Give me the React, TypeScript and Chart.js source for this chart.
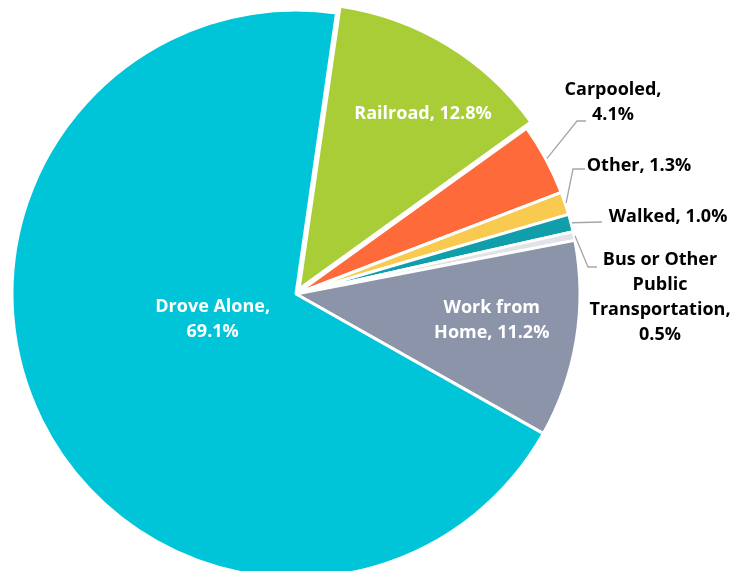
import { useEffect, useRef } from "react";
import { Chart, registerables } from "chart.js";

Chart.register(...registerables);

// ---- data ----
const categories = [
  "Railroad",
  "Carpooled",
  "Other",
  "Walked",
  "Bus or Other Public Transportation",
  "Work from Home",
  "Drove Alone",
];
const shares = [12.8, 4.1, 1.3, 1.0, 0.5, 11.2, 69.1];
const labelLines = [
  ["Railroad, 12.8%"],
  ["Carpooled,", "4.1%"],
  ["Other, 1.3%"],
  ["Walked, 1.0%"],
  ["Bus or Other", "Public", "Transportation,", "0.5%"],
  ["Work from", "Home, 11.2%"],
  ["Drove Alone,", "69.1%"],
];

// ---- styles / layout ----
const colors = ["#A9CD36", "#FE6A3A", "#F8CB50", "#0F9EAA", "#E1E3E9", "#8C94AA", "#00C5D9"];
// visible explode distance in px (Chart.js translates by offset/4)
const sliceShift = [6, 0, 0, 0, 0, 0, 0];
const FONT = "bold 18px 'Open Sans', 'DejaVu Sans', sans-serif";
const LINE_H = 25;

type InsideLayout = { kind: "in"; rf: number; da: number };
type OutsideLayout = {
  kind: "out";
  x: number;
  baseline: number;
  elbow: [number, number];
  end: [number, number];
};
const labelLayout: (InsideLayout | OutsideLayout)[] = [
  { kind: "in", rf: 0.76, da: 3.8 },
  { kind: "out", x: 613, baseline: 95, elbow: [577, 121], end: [586, 121] },
  { kind: "out", x: 639, baseline: 171, elbow: [573, 169], end: [585, 169] },
  { kind: "out", x: 668, baseline: 222, elbow: [602, 222], end: [602, 222] },
  { kind: "out", x: 660, baseline: 265, elbow: [588, 267], end: [597, 267] },
  { kind: "in", rf: 0.695, da: -1.9 },
  { kind: "in", rf: 0.305, da: 10.3 },
];

const labelPlugin = {
  id: "pieLabels",
  afterDatasetsDraw(chart: any) {
    const ctx = chart.ctx as CanvasRenderingContext2D;
    const meta = chart.getDatasetMeta(0);
    ctx.save();
    ctx.font = FONT;
    ctx.textAlign = "center";
    ctx.textBaseline = "alphabetic";
    meta.data.forEach((arc: any, i: number) => {
      const { x, y, startAngle, endAngle, outerRadius } = arc.getProps(
        ["x", "y", "startAngle", "endAngle", "outerRadius"],
        true
      );
      const mid = (startAngle + endAngle) / 2;
      const off = sliceShift[i] || 0;
      const cx = x + Math.cos(mid) * off;
      const cy = y + Math.sin(mid) * off;
      const lines = labelLines[i];
      const lay = labelLayout[i];
      if (lay.kind === "in") {
        const a = mid + (lay.da * Math.PI) / 180;
        const r = outerRadius * lay.rf;
        const px = cx + Math.cos(a) * r;
        const py = cy + Math.sin(a) * r;
        ctx.fillStyle = "#ffffff";
        const first = py + 6.5 - ((lines.length - 1) * LINE_H) / 2;
        lines.forEach((t, k) => ctx.fillText(t, px, first + k * LINE_H));
      } else {
        const sx = cx + Math.cos(mid) * (outerRadius + 1);
        const sy = cy + Math.sin(mid) * (outerRadius + 1);
        ctx.strokeStyle = "#A6A6A6";
        ctx.lineWidth = 1.3;
        ctx.beginPath();
        ctx.moveTo(sx, sy);
        ctx.lineTo(lay.elbow[0], lay.elbow[1]);
        ctx.lineTo(lay.end[0], lay.end[1]);
        ctx.stroke();
        ctx.fillStyle = "#000000";
        lines.forEach((t, k) => ctx.fillText(t, lay.x, lay.baseline + k * LINE_H));
      }
    });
    ctx.restore();
  },
};

export default function App() {
  const ref = useRef<HTMLCanvasElement | null>(null);
  useEffect(() => {
    if (!ref.current) return;
    const chart = new Chart(ref.current, {
      type: "pie",
      data: {
        labels: categories,
        datasets: [
          {
            data: shares,
            backgroundColor: colors,
            borderColor: "#ffffff",
            borderWidth: 3,
            offset: sliceShift.map((s) => s * 4),
            hoverOffset: 0,
            clip: false as any,
          } as any,
        ],
      },
      options: {
        animation: false,
        responsive: true,
        maintainAspectRatio: false,
        events: [],
        rotation: 8.2,
        radius: 284,
        layout: { padding: { left: 0, right: 153, top: 17, bottom: 0 } },
        plugins: {
          legend: { display: false },
          tooltip: { enabled: false },
        },
      } as any,
      plugins: [labelPlugin],
    });
    return () => chart.destroy();
  }, []);
  return (
    <div
      style={{
        position: "absolute",
        left: 0,
        top: 0,
        width: 745,
        height: 571,
        background: "#ffffff",
      }}
    >
      <canvas ref={ref} />
    </div>
  );
}
